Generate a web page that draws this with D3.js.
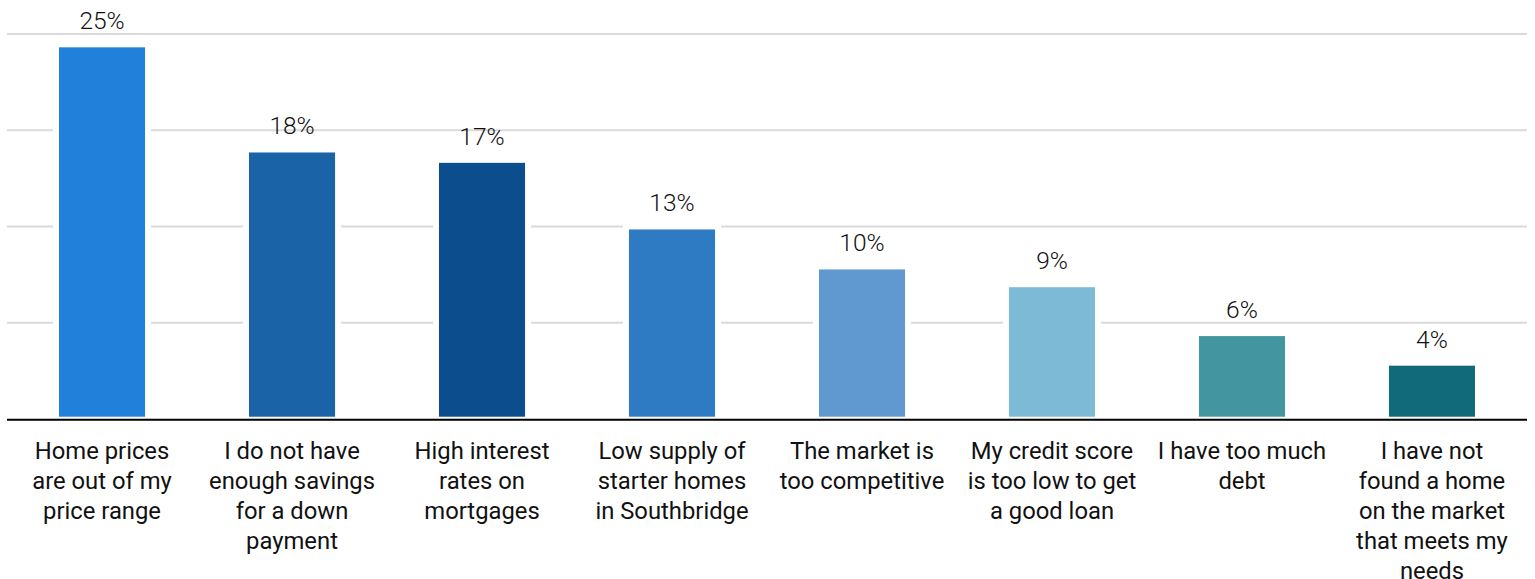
<!DOCTYPE html>
<html>
<head>
<meta charset="utf-8">
<script src="https://cdn.jsdelivr.net/npm/d3@7"></script>
<style>
  html, body { margin: 0; padding: 0; background: #fff; }
  svg { display: block; }
  text { font-family: Roboto, "Noto Sans", sans-serif; fill: #111; }
</style>
</head>
<body>
<svg id="chart" width="1535" height="579"></svg>
<script>
const categories = [
  "Home prices\nare out of my\nprice range",
  "I do not have\nenough savings\nfor a down\npayment",
  "High interest\nrates on\nmortgages",
  "Low supply of\nstarter homes\nin Southbridge",
  "The market is\ntoo competitive",
  "My credit score\nis too low to get\na good loan",
  "I have too much\ndebt",
  "I have not\nfound a home\non the market\nthat meets my\nneeds"
];
const values = [25.1, 18.0, 17.3, 12.8, 10.1, 8.9, 5.6, 3.6];
const colors = ["#2080da", "#1b63a7", "#0c4e8d", "#2e7bc4", "#6099d0", "#7dbad5", "#4396a0", "#116a7a"];
const gridTicks = [0, 6.5, 13, 19.5, 26];

const svg = d3.select("#chart");
const plotLeft = 7, plotRight = 1527, plotTop = 34, plotBase = 419;

const x = d3.scaleBand().domain(d3.range(categories.length))
  .range([plotLeft, plotRight]).paddingInner(0.547).paddingOuter(0.2737);
const y = d3.scaleLinear().domain([0, 26]).range([plotBase, plotTop]);

// gridlines
svg.append("g").selectAll("line").data(gridTicks.filter(t => t > 0)).join("line")
  .attr("x1", plotLeft).attr("x2", plotRight)
  .attr("y1", d => y(d)).attr("y2", d => y(d))
  .attr("stroke", "#dadada").attr("stroke-width", 2);

// white halos around bars (gaps in gridlines)
svg.append("g").selectAll("rect").data(values).join("rect")
  .attr("x", (d, i) => x(i) - 6)
  .attr("width", x.bandwidth() + 12)
  .attr("y", d => y(d) - 5)
  .attr("height", d => plotBase - y(d) + 5)
  .attr("fill", "#fff");

// bars
svg.append("g").selectAll("rect").data(values).join("rect")
  .attr("x", (d, i) => x(i))
  .attr("width", x.bandwidth())
  .attr("y", d => y(d))
  .attr("height", d => plotBase - 2.3 - y(d))
  .attr("fill", (d, i) => colors[i]);

// value labels
svg.append("g").selectAll("text").data(values).join("text")
  .attr("x", (d, i) => x(i) + x.bandwidth() / 2)
  .attr("y", d => y(d) - 18)
  .attr("text-anchor", "middle")
  .attr("font-size", 24.5)
  .attr("font-weight", 300)
  .text(d => Math.round(d) + "%");

// baseline axis
svg.append("line")
  .attr("x1", plotLeft).attr("x2", plotRight)
  .attr("y1", plotBase + 0.7).attr("y2", plotBase + 0.7)
  .attr("stroke", "#000").attr("stroke-width", 2);

// category labels
const catG = svg.append("g").selectAll("text").data(categories).join("text")
  .attr("text-anchor", "middle")
  .attr("font-size", 23.8);
catG.each(function(d, i) {
  const t = d3.select(this);
  d.split("\n").forEach((line, j) => {
    t.append("tspan")
      .attr("x", x(i) + x.bandwidth() / 2)
      .attr("y", 458.5 + j * 30)
      .text(line);
  });
});
</script>
</body>
</html>
